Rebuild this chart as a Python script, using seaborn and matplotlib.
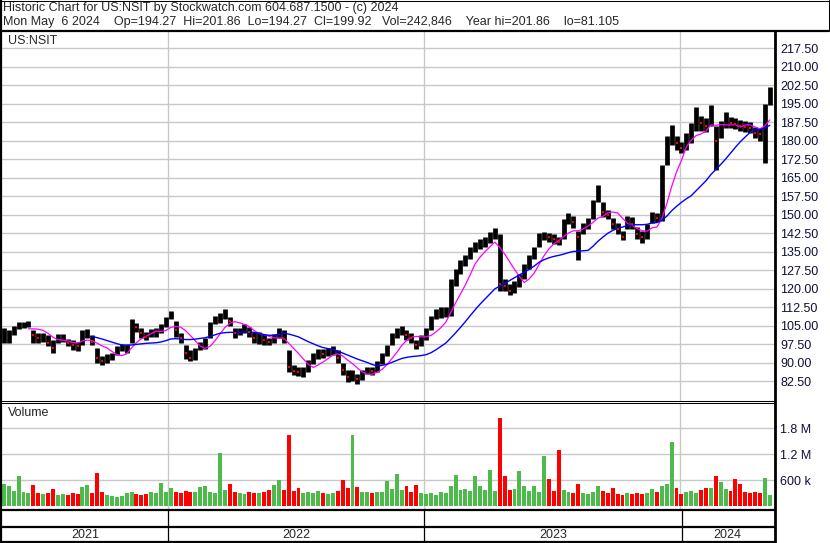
import numpy as np
import pandas as pd
import matplotlib
matplotlib.use("Agg")
import matplotlib.pyplot as plt
from matplotlib.lines import Line2D
from matplotlib.ticker import FormatStrFormatter
import seaborn as sns

# weekly bars (week starting Monday)
week_start = "2021-05-10"
n_weeks = 157

close = [101, 101, 103.5, 105, 105.5, 106, 101, 100, 100.5, 98,
         96, 100, 100, 98, 97, 96.5, 101, 102, 98.5, 92,
         90.5, 91.5, 92.5, 94.5, 96, 96, 105, 104.5, 102, 100.5,
         102, 102.5, 104, 107, 109.5, 103, 100, 94, 92, 94,
         97, 97.5, 105, 107.5, 108, 110, 107, 102, 102, 104,
         102.5, 100, 100, 99, 98.5, 100, 102, 99.5, 88, 86.5,
         86, 86.5, 89, 92, 94, 93.5, 94.5, 95, 92, 87,
         84, 85, 83.5, 85.5, 87, 86.5, 88.5, 92, 95, 100,
         102, 103.5, 101, 100, 97, 99, 102, 107, 109.5, 110,
         110.5, 122, 126, 129, 131.5, 135, 137, 138, 139, 141,
         143, 122, 121, 119, 120.5, 124, 128, 131, 135, 140,
         141.5, 141, 140, 139, 145, 148.5, 147, 141, 144.5, 146,
         154, 159, 151, 150, 146, 144, 141, 146.5, 146, 142,
         141, 143, 149, 148.5, 166, 178, 183, 179, 177, 181,
         183, 189, 187, 186, 192, 180, 185, 188, 187, 186.5,
         186, 185.5, 185, 183, 182.5, 194, 199.92]

high = [104, 103, 105, 106.5, 106.5, 107, 103, 102, 102, 101,
        99, 101.5, 101.5, 99.5, 99, 98.5, 103, 103.5, 101, 96,
        92.5, 93.5, 94, 96.5, 97.5, 97.5, 107.5, 106, 104, 102.5,
        103.5, 104, 105.5, 108.5, 111, 107, 102, 97, 95, 96,
        98.5, 100, 106.5, 109, 110, 111.5, 108.5, 104, 104, 105.5,
        104.5, 102.5, 102.5, 101.5, 100, 101.5, 104, 103, 95, 89,
        88, 88, 91, 94, 95.5, 95.5, 96, 96.5, 95, 90,
        87, 87, 85.5, 87, 88, 88, 90.5, 94, 97, 102,
        104, 104.8, 103, 102, 99, 101, 104, 109, 111.5, 112.5,
        112.5, 124, 128, 131.5, 133.5, 137, 139, 140, 141, 143,
        144.5, 142, 124, 122, 123, 126, 130, 133.5, 137, 142.5,
        143, 142.5, 142, 141, 148, 150.5, 149.5, 143.5, 146.5, 148.5,
        156, 162, 155, 152, 148.5, 146.5, 143.5, 149.5, 149, 145,
        143.5, 146, 151, 150.5, 170, 182, 186.3, 182, 179.5, 183,
        187, 193.6, 190, 189, 194.4, 186, 188, 191.5, 189.5, 189,
        188.5, 188, 187.5, 185.5, 185, 195, 201.86]

low = [98, 98, 101, 103.5, 104, 104.5, 98, 98, 98.5, 96.5,
       93.8, 98, 98.5, 96.5, 95, 94.5, 97, 100, 97, 90,
       88.8, 90, 91, 93, 94.5, 94, 98, 102.5, 100, 99,
       100.5, 100.5, 102, 104.5, 107.5, 100.5, 98, 91.5, 90.5, 91,
       95, 95.5, 100, 105.5, 106, 107.5, 105, 100, 101, 102,
       100.5, 98, 97.5, 97, 97, 98, 100, 98, 86, 85,
       84.5, 84, 86, 89.5, 91.5, 92, 92.5, 93, 90, 85,
       82, 82.5, 81.1, 83, 85.5, 85, 86, 89.5, 92.5, 97,
       100, 101, 99, 98, 95.5, 96.5, 99, 103, 107.5, 108,
       108.5, 109, 121, 126, 129, 132, 135, 136, 137, 138.5,
       140, 119, 119, 117.5, 118, 120.5, 124, 128, 132, 137,
       139.5, 139, 138, 137.5, 140, 146, 144.5, 131.5, 142, 144,
       148, 155, 149, 148, 144, 142, 139.5, 144, 144, 140,
       138.5, 140, 146.5, 147, 147.5, 170, 178, 176, 175, 176,
       179, 184, 184, 183.5, 186, 168, 181, 185, 185, 184.5,
       184, 183.5, 183, 181, 180, 171, 194.27]

# volume in thousands of shares
volume = [500, 470, 350, 690, 320, 300, 480, 310, 280, 300,
          400, 260, 270, 250, 300, 280, 430, 485, 300, 760,
          320, 250, 230, 200, 240, 300, 330, 280, 260, 280,
          320, 300, 530, 330, 420, 320, 300, 350, 330, 320,
          440, 460, 330, 300, 1230, 380, 500, 330, 300, 280,
          320, 300, 290, 320, 380, 480, 600, 380, 1650, 350,
          420, 300, 330, 300, 340, 300, 280, 300, 350, 600,
          420, 1630, 440, 320, 330, 300, 320, 330, 580, 400,
          740, 380, 460, 330, 480, 300, 270, 300, 260, 320,
          300, 460, 720, 380, 400, 350, 690, 460, 380, 830,
          350, 2030, 690, 380, 400, 810, 460, 350, 460, 330,
          1150, 620, 350, 1290, 380, 330, 300, 500, 300, 280,
          330, 460, 350, 300, 420, 280, 260, 300, 280, 300,
          270, 300, 400, 320, 460, 510, 1480, 420, 280, 320,
          350, 300, 380, 420, 420, 690, 560, 400, 350, 620,
          500, 330, 300, 320, 300, 640, 243]

year_labels = ["2021", "2022", "2023", "2024"]
price_ticks = np.arange(82.5, 218, 7.5)
vol_ticks = [600000, 1200000, 1800000]
vol_tick_labels = ["600 k", "1.2 M", "1.8 M"]

title1 = "Historic Chart for US:NSIT by Stockwatch.com 604.687.1500 - (c) 2024"
title2 = ("Mon May  6 2024    Op=194.27  Hi=201.86  Lo=194.27  Cl=199.92   "
          "Vol=242,846    Year hi=201.86    lo=81.105")

df = pd.DataFrame({"close": close, "high": high, "low": low,
                   "volume": np.array(volume) * 1000})
df["date"] = pd.date_range(week_start, periods=n_weeks, freq="7D") + pd.Timedelta(days=2)
df["down"] = df["close"].diff() < 0
df["ma_short"] = df["close"].rolling(6).mean()
df["ma_long"] = df["close"].rolling(19).mean()

sns.set_style("white")
plt.rcParams["font.family"] = ["Liberation Sans", "DejaVu Sans"]

W, H = 830, 543
fig = plt.figure(figsize=(W / 100, H / 100), dpi=100)


def box(x0, y0, x1, y1):
    return [x0 / W, 1 - y1 / H, (x1 - x0) / W, (y1 - y0) / H]


def hline(y, x0, x1, lw=0.75):
    fig.add_artist(Line2D([x0 / W, x1 / W], [1 - y / H, 1 - y / H],
                          transform=fig.transFigure, color="black", lw=lw))


def vline(x, y0, y1, lw=0.75):
    fig.add_artist(Line2D([x / W, x / W], [1 - y0 / H, 1 - y1 / H],
                          transform=fig.transFigure, color="black", lw=lw))


ax = fig.add_axes(box(2, 32, 774, 401))
axv = fig.add_axes(box(2, 403, 774, 510), sharex=ax)

x_left = pd.Timestamp("2022-01-01") - pd.Timedelta(days=236.7)
x_right = pd.Timestamp("2022-01-01") + pd.Timedelta(days=864)
year_starts = [pd.Timestamp(f"{y}-01-01") for y in (2022, 2023, 2024)]
grid_c = "#c8c8c8"
label_c = "#101038"

# price panel
ax.set_xlim(x_left, x_right)
ax.set_ylim(74.4, 224.0)
ax.set_yticks(price_ticks)
ax.yaxis.set_major_formatter(FormatStrFormatter("%.2f"))
ax.yaxis.tick_right()
ax.tick_params(axis="y", length=0, pad=4.5, labelsize=9, labelcolor=label_c)
ax.tick_params(axis="x", bottom=False, labelbottom=False)
ax.grid(axis="y", color=grid_c, lw=1.0)
for d in year_starts:
    ax.axvline(d, color=grid_c, lw=1.0, zorder=0)
for s in ax.spines.values():
    s.set_visible(False)

ax.vlines(df["date"], df["low"], df["high"], color="black", lw=3.4, zorder=2)
sns.lineplot(data=df, x="date", y="ma_short", ax=ax, color="#ff00ff", lw=0.9, zorder=3)
sns.lineplot(data=df, x="date", y="ma_long", ax=ax, color="#0000ff", lw=1.0, zorder=3)
sns.scatterplot(data=df[df["down"]], x="date", y="close", ax=ax, color="#ff0000",
                marker="s", s=3, linewidth=0, zorder=4)
ax.set_xlabel("")
ax.set_ylabel("")
ax.text(6 / 772, 1 - 9 / 369, "US:NSIT", transform=ax.transAxes, fontsize=9,
        va="center", ha="left")

# volume panel
axv.set_ylim(-92000, 2377000)
axv.set_yticks(vol_ticks)
axv.set_yticklabels(vol_tick_labels)
axv.yaxis.tick_right()
axv.tick_params(axis="y", length=0, pad=4.5, labelsize=9, labelcolor=label_c)
axv.tick_params(axis="x", bottom=False, labelbottom=False)
axv.grid(axis="y", color=grid_c, lw=1.0)
for d in year_starts:
    axv.axvline(d, color=grid_c, lw=1.0, zorder=0)
for s in axv.spines.values():
    s.set_visible(False)
bar_colors = np.where(df["down"], "#ff0000", "#4cbb4c")
axv.bar(df["date"], df["volume"], width=5.6, bottom=0, color=bar_colors,
        linewidth=0, zorder=2)
axv.set_xlim(x_left, x_right)
axv.text(6 / 772, 1 - 10 / 107, "Volume", transform=axv.transAxes, fontsize=9,
         va="center", ha="left")

# frame and header box
hline(0.5, 0, 829, 0.75)
vline(829, 0, 31, 0.75)
hline(31, 0, 829, 1.6)
vline(1, 0, 543, 1.6)
vline(774.5, 31, 543, 2.0)
hline(401, 0, 774, 0.75)
hline(403, 0, 774, 0.75)
hline(510, 0, 774, 1.6)
hline(527, 0, 774, 1.6)
hline(542, 0, 774, 1.6)
year_px = [168, 424, 682]
for xp in year_px:
    vline(xp, 510, 543, 0.9)

edges = [2] + year_px + [772]
for lab, a, b in zip(year_labels, edges[:-1], edges[1:]):
    fig.text((a + b) / 2 / W, 1 - 535 / H, lab, ha="center", va="center", fontsize=9)

fig.text(3 / W, 1 - 8 / H, title1, ha="left", va="center", fontsize=9)
fig.text(3 / W, 1 - 22 / H, title2, ha="left", va="center", fontsize=9)

fig.savefig("out.png", dpi=100)
